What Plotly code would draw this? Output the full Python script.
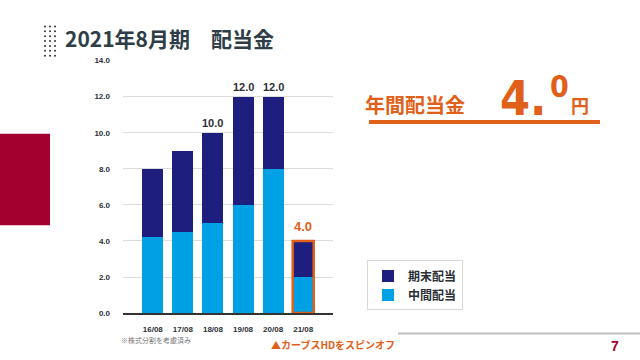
import plotly.graph_objects as go

categories = ["16/08", "17/08", "18/08", "19/08", "20/08", "21/08"]
interim = [4.25, 4.5, 5.0, 6.0, 8.0, 2.0]      # 中間配当
year_end = [3.75, 4.5, 5.0, 6.0, 4.0, 2.0]     # 期末配当
total_labels = ["", "", "10.0", "12.0", "12.0", "4.0"]
y_ticks = [0, 2, 4, 6, 8, 10, 12, 14]

NAVY = "#1e1e7e"
BLUE = "#00a0e4"
ORANGE = "#e0601a"
DARK = "#2b2f36"
RED = "#a3002f"
JP = "Noto Sans CJK JP, sans-serif"
NUM = "Liberation Sans, Arial, sans-serif"
COND = "Liberation Sans Narrow, DejaVu Sans Condensed, sans-serif"

fig = go.Figure()
fig.add_trace(go.Bar(x=categories, y=interim, name="中間配当", marker_color=BLUE,
                     width=0.7, marker_line_width=0))
fig.add_trace(go.Bar(x=categories, y=year_end, name="期末配当", marker_color=NAVY,
                     width=0.7, marker_line_width=0))

# total labels
for i, (c, lab) in enumerate(zip(categories, total_labels)):
    if lab:
        tot = interim[i] + year_end[i]
        last = i == len(categories) - 1
        fig.add_annotation(x=c, y=tot, text=f"<b>{lab}</b>", showarrow=False,
                           yanchor="bottom", yshift=5 if last else 2,
                           font=dict(family=NUM, size=13 if last else 11,
                                     color=ORANGE if last else DARK))

# outline around the last bar
li = len(categories) - 1
fig.add_shape(type="rect", xref="x", yref="y", x0=li - 0.35, x1=li + 0.35,
              y0=0, y1=interim[li] + year_end[li], line=dict(color=ORANGE, width=2.5),
              fillcolor="rgba(0,0,0,0)", layer="above")

shapes = [
    dict(type="rect", xref="paper", yref="paper", x0=0, x1=50/640, y0=1-227/360, y1=1-133/360,
         fillcolor=RED, line=dict(width=0)),
    dict(type="line", xref="paper", yref="paper", x0=369/640, x1=600/640, y0=1-121/360, y1=1-121/360,
         line=dict(color=ORANGE, width=4)),
    dict(type="line", xref="paper", yref="paper", x0=398/640, x1=1, y0=1-338/360, y1=1-338/360,
         line=dict(color="#bdbdbd", width=2)),
]
for r in range(7):
    for c in range(3):
        cx, cy = 45 + 5 * c, 23 + 5 * r
        shapes.append(dict(type="circle", xref="paper", yref="paper",
                           x0=(cx - 1) / 640, x1=(cx + 1) / 640,
                           y0=1 - (cy + 1) / 360, y1=1 - (cy - 1) / 360,
                           fillcolor="#333", line=dict(width=0)))
for s in shapes:
    fig.add_shape(**s)

def ann(text, x, y, size, color, family=JP, xanchor="left", yanchor="middle"):
    fig.add_annotation(text=text, xref="paper", yref="paper", x=x / 640, y=1 - y / 360,
                       showarrow=False, xanchor=xanchor, yanchor=yanchor, borderpad=0,
                       font=dict(family=family, size=size, color=color))

ann("<b>2021年8月期　配当金</b>", 64, 35, 21, "#2e3d48")
ann("<b>年間配当金</b>", 364, 103, 20, ORANGE)
ann("<b>4.</b>", 547, 96, 48, ORANGE, family=COND, xanchor="right")
ann("<b>0</b>", 549, 85, 30, ORANGE, family=COND)
ann("<b>円</b>", 570, 104, 18, ORANGE)
ann("※株式分割を考慮済み", 120, 345, 7, "#777")
ann("<b>▲カーブスHDをスピンオフ</b>", 270, 349, 10, ORANGE)
ann("<b>7</b>", 610, 351, 14, RED, family=NUM)

fig.update_layout(
    width=640, height=360,
    margin=dict(l=0, r=0, t=0, b=0),
    paper_bgcolor="white", plot_bgcolor="white",
    barmode="stack", bargap=0,
    showlegend=True,
    legend=dict(x=367/640, y=1-263/360, xanchor="left", yanchor="top",
                traceorder="reversed", bordercolor="#d8d8d8", borderwidth=1,
                bgcolor="white", font=dict(family=JP, size=12, color=DARK, weight="bold"),
                itemwidth=30, tracegroupgap=2),
    xaxis=dict(domain=[123/640, 333/640], range=[-0.99, 5.99], type="category",
               showline=True, linecolor="#333", linewidth=1.5, ticks="",
               showgrid=False,
               tickfont=dict(family=NUM, size=8, color=DARK, weight="bold"), ticklabelstandoff=8),
    yaxis=dict(domain=[43/360, 302/360], range=[0, 14], tickvals=y_ticks,
               tickformat=".1f", showgrid=True, gridcolor="#dcdcdc", gridwidth=1,
               zeroline=False, showline=False,
               tickfont=dict(family=NUM, size=8, color=DARK, weight="bold"), ticklabelstandoff=12),
    font=dict(family=NUM),
)
fig.write_html("out.html", config={"displayModeBar": False},
               post_script="document.body.style.margin='0';document.body.style.overflow='hidden';")
